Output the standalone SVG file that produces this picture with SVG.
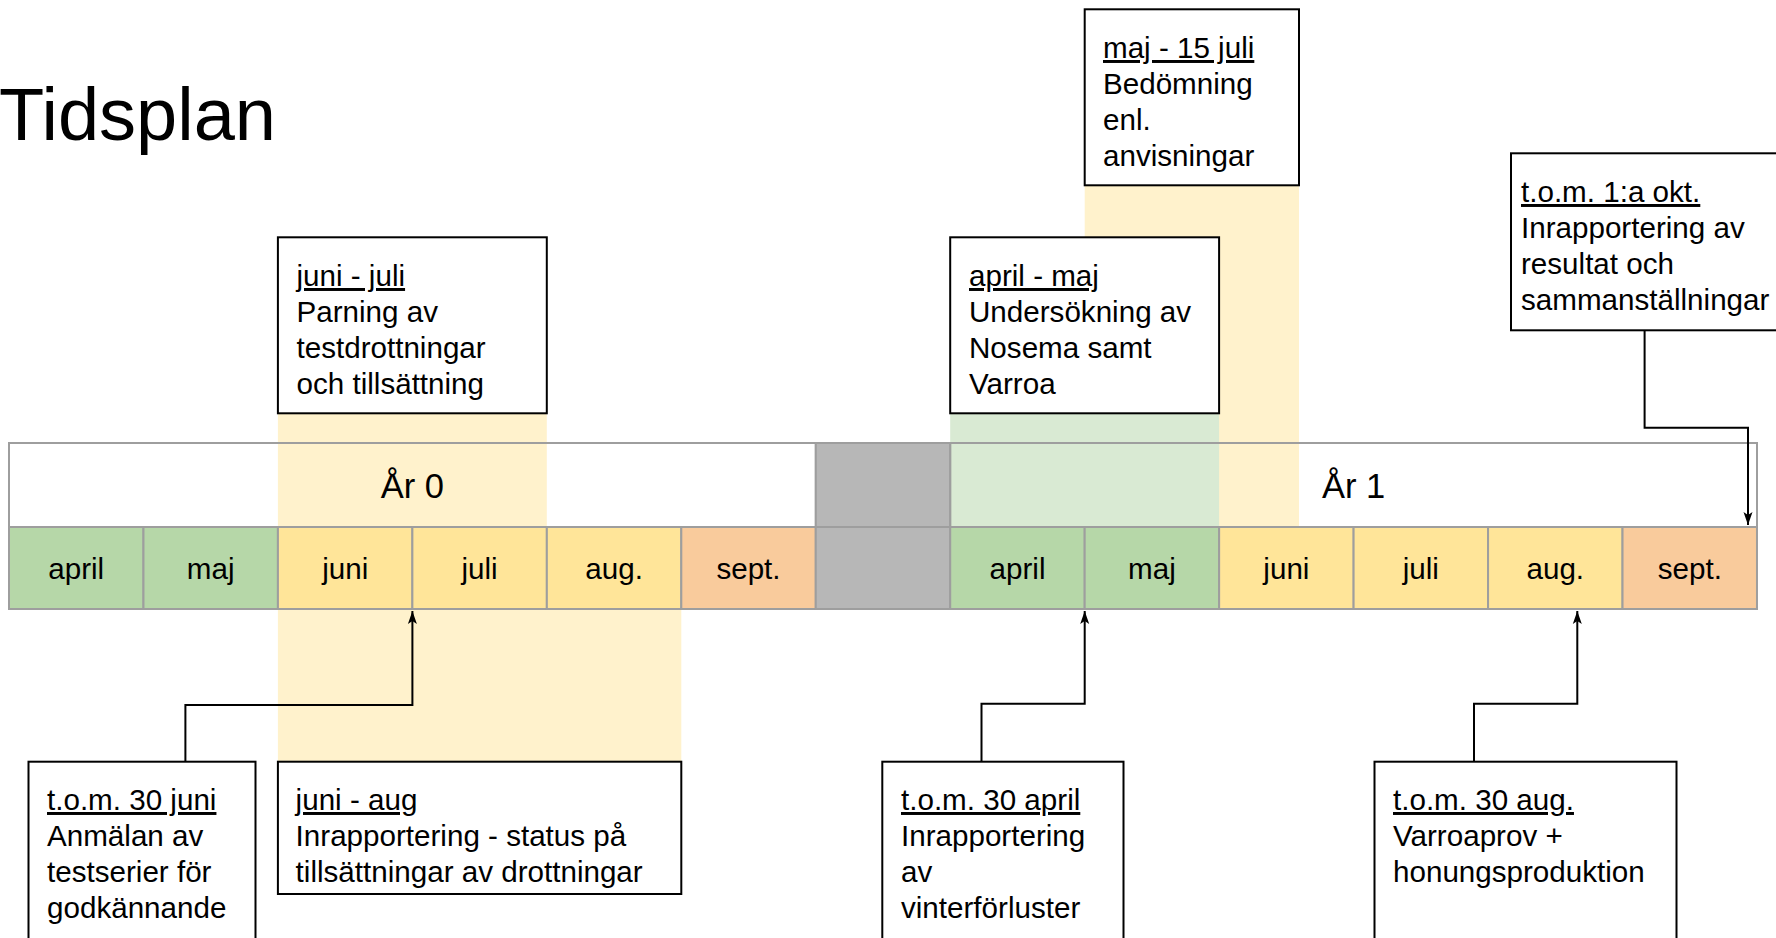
<svg xmlns="http://www.w3.org/2000/svg" width="1776" height="938" viewBox="0 0 1776 938">
<defs>
<style>
text{font-family:"Liberation Sans",Arial,sans-serif;fill:#000}
.t{font-size:29.6px}
.u{text-decoration:underline}
.m{font-size:29.6px;text-anchor:middle}
.yr{font-size:34.5px;text-anchor:middle}
.box{fill:#fff;stroke:#000;stroke-width:2}
.cell{stroke:#9e9e9e;stroke-width:2}
.g{fill:#b6d7a8}.y{fill:#ffe599}.o{fill:#f9cb9c}.gr{fill:#b7b7b7}
.band{fill:#fff2cc}.bandg{fill:#d9ead3}
.conn{fill:none;stroke:#000;stroke-width:2}
</style>
<marker id="arr" viewBox="-14 -6 16 12" refX="0" refY="0" markerWidth="16" markerHeight="12" markerUnits="userSpaceOnUse" orient="auto">
<path d="M0,0 L-13,-4.5 L-10,0 L-13,4.5 Z" fill="#000"/>
</marker>
</defs>
<rect width="1776" height="938" fill="#fff"/>
<text id="title" x="-1" y="140" font-size="74">Tidsplan</text>

<g id="bands">
<rect class="band" x="277.9" y="413" width="268.9" height="114"/>
<rect class="band" x="277.9" y="609" width="403.4" height="153"/>
<rect class="band" x="1084.7" y="185" width="214.3" height="342"/>
<rect class="bandg" x="950.2" y="413" width="268.9" height="114"/>
</g>

<g id="timeline">
<rect class="cell" x="9" y="443" width="806.8" height="84" fill="none"/>
<rect class="cell gr" x="815.8" y="443" width="134.4" height="84"/>
<rect class="cell" x="950.2" y="443" width="806.8" height="84" fill="none"/>
<text class="yr" x="412.4" y="498">År 0</text>
<text class="yr" x="1353.6" y="498">År 1</text>
<rect class="cell g" x="9" y="527" width="134.46" height="82"/>
<rect class="cell g" x="143.46" y="527" width="134.46" height="82"/>
<rect class="cell y" x="277.92" y="527" width="134.46" height="82"/>
<rect class="cell y" x="412.38" y="527" width="134.46" height="82"/>
<rect class="cell y" x="546.84" y="527" width="134.46" height="82"/>
<rect class="cell o" x="681.3" y="527" width="134.46" height="82"/>
<rect class="cell gr" x="815.76" y="527" width="134.46" height="82"/>
<rect class="cell g" x="950.22" y="527" width="134.46" height="82"/>
<rect class="cell g" x="1084.68" y="527" width="134.46" height="82"/>
<rect class="cell y" x="1219.14" y="527" width="134.46" height="82"/>
<rect class="cell y" x="1353.6" y="527" width="134.46" height="82"/>
<rect class="cell y" x="1488.06" y="527" width="134.46" height="82"/>
<rect class="cell o" x="1622.52" y="527" width="134.46" height="82"/>
<text class="m" x="76.2" y="579">april</text>
<text class="m" x="210.7" y="579">maj</text>
<text class="m" x="345.2" y="579">juni</text>
<text class="m" x="479.6" y="579">juli</text>
<text class="m" x="614.1" y="579">aug.</text>
<text class="m" x="748.5" y="579">sept.</text>
<text class="m" x="1017.5" y="579">april</text>
<text class="m" x="1151.9" y="579">maj</text>
<text class="m" x="1286.4" y="579">juni</text>
<text class="m" x="1420.8" y="579">juli</text>
<text class="m" x="1555.3" y="579">aug.</text>
<text class="m" x="1689.8" y="579">sept.</text>
</g>

<g id="connectors">
<path class="conn" d="M185.4,762 V705 H412.4 V611" marker-end="url(#arr)"/>
<path class="conn" d="M981.5,762 V703.7 H1084.7 V611" marker-end="url(#arr)"/>
<path class="conn" d="M1474,762 V703.7 H1577.3 V611" marker-end="url(#arr)"/>
<path class="conn" d="M1644.6,330 V427.7 H1748 V525" marker-end="url(#arr)"/>
</g>

<g id="box-juni-juli">
<rect class="box" x="277.9" y="237.3" width="268.9" height="176"/>
<text class="t" x="296.5"><tspan class="u" x="296.5" y="286">juni - juli</tspan><tspan x="296.5" y="322">Parning av</tspan><tspan x="296.5" y="358">testdrottningar</tspan><tspan x="296.5" y="394">och tillsättning</tspan></text>
</g>

<g id="box-maj-15-juli">
<rect class="box" x="1084.7" y="9.3" width="214.3" height="176"/>
<text class="t" x="1103"><tspan class="u" x="1103" y="58">maj - 15 juli</tspan><tspan x="1103" y="94">Bedömning</tspan><tspan x="1103" y="130">enl.</tspan><tspan x="1103" y="166">anvisningar</tspan></text>
</g>

<g id="box-april-maj">
<rect class="box" x="950.2" y="237.3" width="268.9" height="176"/>
<text class="t" x="969"><tspan class="u" x="969" y="286">april - maj</tspan><tspan x="969" y="322">Undersökning av</tspan><tspan x="969" y="358">Nosema samt</tspan><tspan x="969" y="394">Varroa</tspan></text>
</g>

<g id="box-okt">
<rect class="box" x="1511" y="153.3" width="280" height="177"/>
<text class="t" x="1521"><tspan class="u" x="1521" y="202">t.o.m. 1:a okt.</tspan><tspan x="1521" y="238">Inrapportering av</tspan><tspan x="1521" y="274">resultat och</tspan><tspan x="1521" y="310">sammanställningar</tspan></text>
</g>

<g id="box-30-juni">
<rect class="box" x="28.5" y="761.7" width="227" height="200"/>
<text class="t" x="47"><tspan class="u" x="47" y="810">t.o.m. 30 juni</tspan><tspan x="47" y="846">Anmälan av</tspan><tspan x="47" y="882">testserier för</tspan><tspan x="47" y="918">godkännande</tspan></text>
</g>

<g id="box-juni-aug">
<rect class="box" x="277.9" y="761.7" width="403.4" height="132.3"/>
<text class="t" x="295.6"><tspan class="u" x="295.6" y="810">juni - aug</tspan><tspan x="295.6" y="846">Inrapportering - status på</tspan><tspan x="295.6" y="882">tillsättningar av drottningar</tspan></text>
</g>

<g id="box-30-april">
<rect class="box" x="882.3" y="761.7" width="241.2" height="200"/>
<text class="t" x="901"><tspan class="u" x="901" y="810">t.o.m. 30 april</tspan><tspan x="901" y="846">Inrapportering</tspan><tspan x="901" y="882">av</tspan><tspan x="901" y="918">vinterförluster</tspan></text>
</g>

<g id="box-30-aug">
<rect class="box" x="1374.5" y="761.7" width="302" height="200"/>
<text class="t" x="1393"><tspan class="u" x="1393" y="810">t.o.m. 30 aug.</tspan><tspan x="1393" y="846">Varroaprov +</tspan><tspan x="1393" y="882">honungsproduktion</tspan></text>
</g>
</svg>
